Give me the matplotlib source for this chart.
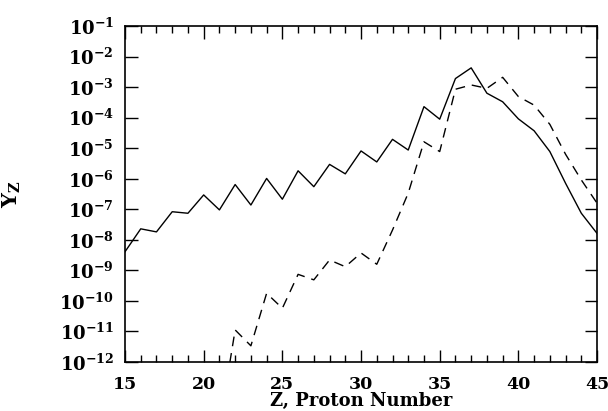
import matplotlib
matplotlib.use("Agg")
import matplotlib.pyplot as plt
from matplotlib.ticker import FixedLocator, MultipleLocator, NullLocator

plt.rcParams['font.family'] = ['DejaVu Serif']
plt.rcParams['font.weight'] = 'bold'
plt.rcParams['mathtext.fontset'] = 'dejavuserif'

# proton number
z_solid = list(range(15, 46))
# log10 abundance, solid curve
logy_solid = [-8.39, -7.64, -7.74, -7.08, -7.13, -6.53, -7.02, -6.19, -6.86,
              -5.99, -6.67, -5.74, -6.26, -5.53, -5.84, -5.09, -5.45, -4.71,
              -5.06, -3.64, -4.05, -2.72, -2.37, -3.20, -3.48, -4.04, -4.43,
              -5.11, -6.15, -7.13, -7.79]

z_dash = list(range(21, 46))
# log10 abundance, dashed curve
logy_dash = [-14.1, -10.95, -11.47, -9.75, -10.24, -9.13, -9.31, -8.66, -8.88,
             -8.43, -8.80, -7.68, -6.47, -4.79, -5.11, -3.07, -2.93, -3.04,
             -2.68, -3.31, -3.59, -4.22, -5.20, -6.04, -6.80]

decades = list(range(-12, 0))

fig = plt.figure(figsize=(6.08, 4.11), dpi=100)
ax = fig.add_axes([0.2056, 0.1192, 0.7764, 0.8175])

ax.plot(z_solid, [10.0 ** v for v in logy_solid], color='black', lw=1.0)
ax.plot(z_dash, [10.0 ** v for v in logy_dash], color='black', lw=1.0,
        dashes=(7, 5))

ax.set_yscale('log')
ax.set_xlim(15, 45)
ax.set_ylim(1e-12, 1e-1)

ax.xaxis.set_major_locator(MultipleLocator(5))
ax.xaxis.set_minor_locator(MultipleLocator(1))
ax.yaxis.set_major_locator(FixedLocator([10.0 ** d for d in decades]))
ax.yaxis.set_minor_locator(NullLocator())
ax.set_yticklabels([r'$\mathbf{10^{%d}}$' % d for d in decades])

ax.tick_params(which='both', direction='in', top=True, right=True)
ax.tick_params(axis='y', labelsize=13, pad=8)
ax.tick_params(axis='x', labelsize=12.5, pad=10)
ax.tick_params(which='major', length=9, width=1)
ax.tick_params(which='minor', length=5, width=1)
for s in ax.spines.values():
    s.set_linewidth(1.2)

ax.set_xlabel('Z, Proton Number', fontsize=13, fontweight='bold', labelpad=-1)
ax.set_ylabel(r'$\mathbf{Y_Z}$', fontsize=15, labelpad=26)

fig.savefig('out.png', dpi=100)
